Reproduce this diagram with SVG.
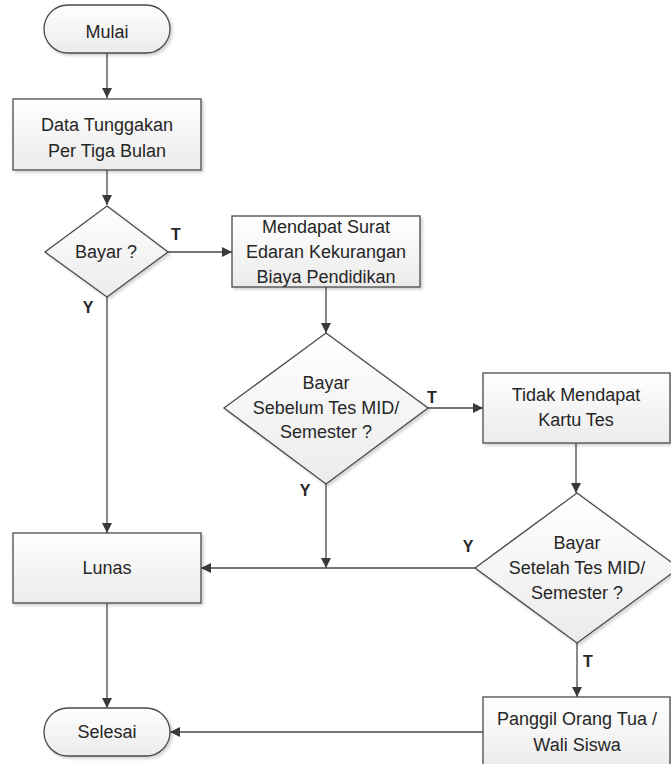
<svg xmlns="http://www.w3.org/2000/svg" width="671" height="764" viewBox="0 0 671 764">
<style>
.shape{fill:url(#g);stroke:#4a4a4a;stroke-width:1.3;filter:url(#sh)}
.t{font-family:"Liberation Sans",Arial,sans-serif;font-size:18px;fill:#262626;text-anchor:middle}
.l{font-family:"Liberation Sans",Arial,sans-serif;font-size:16px;font-weight:bold;fill:#262626;text-anchor:middle}
.c{fill:none;stroke:#4a4a4a;stroke-width:1.3;marker-end:url(#a)}
</style>
<defs>
<linearGradient id="g" x1="0" y1="0" x2="0" y2="1">
<stop offset="0" stop-color="#ffffff"/>
<stop offset="1" stop-color="#ebebeb"/>
</linearGradient>
<filter id="sh" x="-10%" y="-10%" width="125%" height="130%">
<feDropShadow dx="2" dy="2" stdDeviation="1.5" flood-color="#000" flood-opacity="0.18"/>
</filter>
<marker id="a" viewBox="0 0 10 10" refX="10" refY="5" markerWidth="10" markerHeight="10" markerUnits="userSpaceOnUse" orient="auto">
<path d="M0,0 L10,5 L0,10 z" fill="#3a3a3a"/>
</marker>
</defs>
<rect width="671" height="764" fill="#fff"/>
<g id="connectors">
<path class="c" d="M107,53 V98"/>
<path class="c" d="M107,170 V205"/>
<path class="c" d="M167,252 H232"/>
<path class="c" d="M326,287 V333"/>
<path class="c" d="M428,408 H483"/>
<path class="c" d="M576,443 V493"/>
<path class="c" d="M107,297 V533"/>
<path class="c" d="M326,484 V568"/>
<path class="c" d="M475,568 H201"/>
<path class="c" d="M577,643 V697"/>
<path class="c" d="M107,603 V708"/>
<path class="c" d="M483,732 H170"/>
</g>
<g id="labels">
<text class="l" x="176" y="240">T</text>
<text class="l" x="88" y="313">Y</text>
<text class="l" x="432" y="403">T</text>
<text class="l" x="305" y="496">Y</text>
<text class="l" x="468" y="552">Y</text>
<text class="l" x="588" y="667">T</text>
</g>
<g id="mulai">
<rect class="shape" x="44" y="5" width="126" height="48" rx="24"/>
<text class="t" x="107" y="38">Mulai</text>
</g>
<g id="data">
<rect class="shape" x="13" y="99" width="188" height="71"/>
<text class="t" x="107" y="131">Data Tunggakan</text>
<text class="t" x="107" y="157">Per Tiga Bulan</text>
</g>
<g id="bayar1">
<polygon class="shape" points="107,206 168,252 107,297 45,252"/>
<text class="t" x="106" y="258">Bayar ?</text>
</g>
<g id="surat">
<rect class="shape" x="232" y="216" width="188" height="71"/>
<text class="t" x="326" y="233">Mendapat Surat</text>
<text class="t" x="326" y="258">Edaran Kekurangan</text>
<text class="t" x="326" y="283">Biaya Pendidikan</text>
</g>
<g id="bayar2">
<polygon class="shape" points="326,333 428,408 326,484 224,408"/>
<text class="t" x="326" y="389">Bayar</text>
<text class="t" x="326" y="414">Sebelum Tes MID/</text>
<text class="t" x="326" y="438">Semester ?</text>
</g>
<g id="tidak">
<rect class="shape" x="483" y="373" width="187" height="70"/>
<text class="t" x="576" y="401">Tidak Mendapat</text>
<text class="t" x="576" y="426">Kartu Tes</text>
</g>
<g id="bayar3">
<polygon class="shape" points="577,493 679,568 577,643 475,568"/>
<text class="t" x="577" y="549">Bayar</text>
<text class="t" x="577" y="574">Setelah Tes MID/</text>
<text class="t" x="577" y="599">Semester ?</text>
</g>
<g id="lunas">
<rect class="shape" x="13" y="533" width="188" height="70"/>
<text class="t" x="107" y="574">Lunas</text>
</g>
<g id="selesai">
<rect class="shape" x="44" y="708" width="126" height="48" rx="24"/>
<text class="t" x="107" y="738">Selesai</text>
</g>
<g id="panggil">
<rect class="shape" x="483" y="697" width="187" height="72"/>
<text class="t" x="577" y="725">Panggil Orang Tua /</text>
<text class="t" x="577" y="751">Wali Siswa</text>
</g>
</svg>
